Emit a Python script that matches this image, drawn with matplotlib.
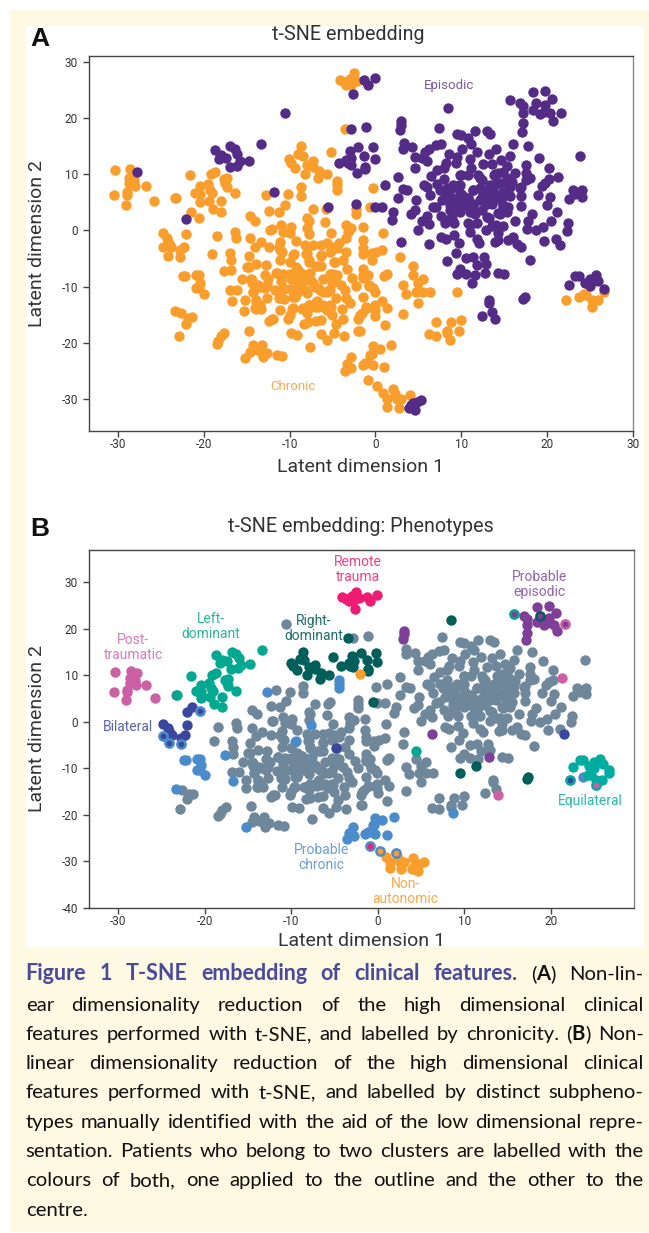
import numpy as np
import matplotlib
matplotlib.use('Agg')
import matplotlib.pyplot as plt
from matplotlib.patches import Rectangle

W, H = 649, 1233
plt.rcParams['font.family'] = ['Roboto', 'DejaVu Sans']
plt.rcParams['axes.unicode_minus'] = False

# Points are (latent 1, latent 2), split by phenotype and by chronicity
other_chronic = [
    (-23.4, 5.7), (-14.6, 2.6), (-14.0, 1.6), (-12.4, 3.5), (-11.3, 3.2), (-10.6, 4.5), (-10.2, 6.5),
    (-8.7, 7.7), (-8.7, 6.2), (-7.3, 3.9), (-5.8, 3.9), (-2.3, 3.8), (-8.0, 2.2), (-7.8, 1.6), (-8.0, 0.5),
    (-5.9, 1.5), (-5.2, -0.5), (-11.0, 1.0), (-9.9, 0.7), (-12.1, 0.2), (-12.3, 0.1), (-10.8, -0.2),
    (-10.0, -0.5), (-9.3, -1.8), (-14.6, -1.4), (-13.4, -2.1), (-14.1, -3.0), (-16.4, -0.2), (-16.3, -1.4),
    (-18.5, -1.0), (-11.1, -2.0), (-12.4, -2.9), (-11.3, -2.9), (-8.2, -2.6), (-7.3, -2.6), (-6.3, -2.6),
    (-5.7, -2.3), (-4.3, -2.2), (-5.0, -2.9), (-3.4, 1.0), (-2.8, 0.4), (-3.4, -1.4), (-1.5, 0.7),
    (-1.5, -1.7), (-3.2, -0.2), (-19.0, -4.2), (-16.9, -4.1), (-16.8, -5.3), (-16.8, -7.0), (-14.8, -4.5),
    (-13.9, -6.0), (-15.0, -6.6), (-14.8, -6.6), (-12.8, -6.2), (-11.1, -3.5), (-11.1, -5.3), (-10.9, -3.8),
    (-10.0, -5.6), (-9.3, -6.6), (-8.1, -4.2), (-7.8, -5.6), (-6.3, -4.5), (-6.9, -6.3), (-6.4, -6.3),
    (-5.2, -3.6), (-3.4, -3.8), (-3.8, -5.3), (-3.3, -6.8), (-1.4, -4.2), (-1.4, -6.8), (-15.6, -8.7),
    (-14.5, -8.7), (-14.4, -9.4), (-13.7, -9.7), (-12.9, -8.0), (-12.5, -8.7), (-12.9, -10.3), (-11.6, -7.5),
    (-10.8, -7.7), (-10.0, -7.7), (-9.2, -8.0), (-8.6, -7.7), (-7.6, -7.5), (-9.8, -8.7), (-11.0, -9.1),
    (-8.4, -9.1), (-7.3, -9.3), (-6.1, -8.7), (-4.9, -7.7), (-5.3, -8.2), (-4.7, -8.8), (-5.1, -9.4),
    (-4.0, -9.8), (-2.7, -8.5), (-2.3, -9.9), (-1.4, -8.0), (-0.8, -9.9), (-16.9, -10.7), (-16.1, -10.7),
    (-14.3, -11.0), (-11.7, -10.6), (-10.7, -10.5), (-10.0, -10.4), (-9.2, -11.1), (-9.4, -11.8),
    (-8.0, -11.2), (-6.7, -10.3), (-6.1, -10.9), (-5.4, -10.7), (-3.6, -10.7), (-15.2, -12.4), (-13.9, -12.4),
    (-12.7, -12.0), (-11.2, -12.1), (-10.7, -12.3), (-13.9, -14.0), (-13.5, -13.3), (-13.3, -14.0),
    (-15.3, -14.3), (-11.1, -14.1), (-4.6, -12.0), (-3.4, -12.1), (-3.0, -13.0), (-1.4, -11.9), (-9.7, -14.0),
    (-10.0, -15.1), (-10.2, -15.7), (-8.6, -14.0), (-8.0, -14.2), (-7.8, -13.3), (-8.0, -14.7), (-6.8, -12.5),
    (-7.0, -13.7), (-6.1, -13.3), (-5.7, -14.2), (-5.2, -13.6), (-5.1, -15.1), (-3.9, -14.0), (-3.8, -15.7),
    (-1.1, -13.7), (-2.0, -15.7), (-1.8, -15.1), (-12.4, -16.1), (-11.9, -15.7), (-8.3, -16.6), (-7.9, -16.4),
    (-6.9, -16.1), (-6.3, -16.0), (-4.6, -16.7), (-9.9, -18.2), (-9.1, -18.6), (-6.4, -18.5), (-4.8, -18.2),
    (-3.7, -18.8), (-5.6, -19.5), (-2.0, -17.9), (-14.7, -18.0), (-7.6, -20.8), (-22.7, -14.7), (-21.8, -15.6),
    (-21.4, -15.4), (-22.1, -16.6), (-22.9, -18.8), (-17.6, -18.2), (-18.0, -18.9), (-18.3, -19.7),
    (-18.5, -20.2), (-14.3, -20.4), (-14.6, -21.6), (-13.2, -20.5), (-13.7, -21.4), (-13.1, -22.2),
    (-13.1, -22.6), (-12.6, -21.8), (-11.5, -22.2), (-10.9, -22.4), (-1.4, -3.2), (-0.4, -4.1), (0.1, -3.8),
    (0.8, -3.5), (-0.4, -5.2), (2.9, -4.7), (4.4, -8.0), (-1.4, -8.4), (-0.9, -8.0), (1.3, -7.7), (1.0, -8.2),
    (-0.8, -9.7), (-0.3, -10.3), (-0.1, -10.9), (0.8, -12.5), (-0.1, -13.3), (1.3, -13.8), (-1.0, -13.8),
    (-0.1, -14.2), (0.0, -15.3), (-1.6, -14.7), (1.1, -16.9), (-1.8, -17.9), (3.2, -9.8), (3.6, -11.3),
    (4.7, -11.0), (5.0, -9.4), (5.6, -8.7), (5.5, -11.0), (6.4, -10.9), (5.0, -13.0), (3.2, -14.9),
    (7.1, -16.3), (8.8, -16.4), (10.0, -15.9), (8.4, -17.9), (8.4, -18.3), (9.7, -17.9), (6.2, -18.5),
    (7.1, -18.8), (-0.6, -22.2), (-0.25, 7.5), (0.9, -0.4), (-2.3, 3.0),
]
# second reading of the crowded middle of the chronic side
dense_chronic = [
    (-14.4, -8.8), (-14.3, -10.9), (-13.5, -10.0), (-12.7, -9.7), (-11.5, -7.6), (-10.0, -8.0), (-9.4, -8.8),
    (-8.8, -7.4), (-8.2, -8.0), (-10.8, -10.3), (-9.0, -10.3), (-8.2, -10.6), (-9.6, -11.8), (-7.1, -10.0),
    (-6.5, -10.6), (-5.7, -10.9), (-5.3, -10.6), (-7.5, -9.1), (-5.3, -7.7), (-4.5, -8.0), (-7.8, -13.3),
    (-8.4, -13.9), (-6.9, -12.7), (-6.7, -13.6), (-5.9, -13.9), (-5.3, -13.3), (-9.6, -13.9), (-13.9, -12.7),
    (-14.0, -13.9), (-11.0, -12.1), (-12.1, -15.7), (-9.6, -4.4), (-9.2, -6.8), (-8.0, -4.1), (-7.8, -5.3),
    (-6.7, -6.3), (-6.3, -4.4), (-4.7, -5.6), (-4.5, -3.2), (-5.3, -3.8),
]
other_episodic = [
    (-10.6, 21.0), (-2.9, 18.1), (-1.1, 18.5), (-11.8, 6.8), (-5.5, 4.2), (-2.3, 4.8), (7.4, 18.3), (9.5, 17.2),
    (10.0, 17.0), (11.6, 17.7), (13.0, 17.7), (13.4, 17.2), (10.8, 16.4), (11.1, 15.5), (16.1, 15.5),
    (17.8, 15.1), (3.3, 15.6), (3.2, 14.6), (4.3, 14.9), (7.1, 15.2), (7.6, 15.5), (6.2, 14.5), (5.8, 13.9),
    (8.6, 13.7), (10.1, 14.5), (11.9, 14.0), (13.2, 13.7), (14.1, 14.5), (15.7, 13.3), (4.6, 13.1), (5.4, 13.0),
    (6.0, 12.4), (9.5, 13.1), (9.4, 12.1), (11.0, 12.8), (14.7, 12.5), (12.6, 11.8), (13.6, 11.9), (8.2, 12.0),
    (8.0, 11.1), (7.2, 10.8), (4.6, 11.1), (15.3, 11.5), (17.6, 11.7), (19.1, 13.0), (23.9, 13.3), (20.2, 11.2),
    (6.5, 9.7), (2.6, 9.6), (8.0, 9.1), (9.9, 9.8), (10.8, 9.8), (11.1, 11.1), (12.0, 9.9), (14.0, 10.1),
    (14.9, 10.5), (16.3, 10.3), (17.6, 10.2), (18.0, 9.3), (17.6, 9.0), (20.2, 9.1), (19.8, 8.5), (19.4, 7.9),
    (1.1, 8.1), (3.2, 7.4), (3.7, 7.3), (5.7, 8.1), (6.0, 7.8), (7.2, 8.2), (9.1, 8.1), (9.9, 8.1), (12.2, 9.3),
    (13.4, 8.1), (14.1, 8.5), (15.3, 9.3), (15.9, 8.7), (17.0, 7.8), (23.0, 7.3), (24.1, 7.3), (7.5, 7.2),
    (8.3, 7.5), (11.4, 7.2), (12.2, 7.5), (13.0, 7.2), (14.9, 6.9), (15.7, 7.8), (2.6, 5.7), (4.7, 5.4),
    (6.4, 6.3), (7.8, 5.4), (8.7, 6.0), (10.1, 6.4), (10.8, 5.7), (12.4, 6.0), (13.4, 6.0), (14.3, 6.0),
    (15.7, 6.2), (17.0, 6.1), (19.0, 6.3), (20.4, 6.0), (22.6, 5.6), (23.3, 6.5), (24.1, 5.9), (-0.06, 4.1),
    (0.8, 4.1), (2.1, 3.2), (1.9, 1.9), (4.6, 3.6), (4.2, 2.9), (6.0, 2.6), (6.7, 4.1), (7.1, 4.2), (7.6, 2.6),
    (8.7, 4.5), (8.9, 2.8), (9.9, 4.8), (9.9, 3.3), (11.4, 4.5), (11.6, 3.3), (12.4, 3.6), (13.6, 5.0),
    (14.3, 3.1), (15.3, 3.3), (14.9, 4.5), (17.0, 4.4), (20.0, 4.5), (18.3, 3.0), (21.2, 3.2), (5.4, 1.6),
    (5.0, 0.1), (6.3, 1.1), (8.1, 1.3), (9.2, 1.3), (10.8, 1.3), (11.8, 1.3), (13.2, 2.2), (13.6, 0.8),
    (14.9, 0.8), (16.3, 1.7), (17.8, 1.6), (17.7, 0.2), (18.7, 0.0), (19.5, 0.7), (20.5, 1.6), (22.4, 1.3),
    (22.3, -0.1), (11.0, -0.2), (12.9, 0.1), (14.3, -0.5), (9.2, -0.9), (7.7, -1.1), (8.2, -1.5), (3.0, -2.1),
    (9.8, -2.3), (11.8, -1.6), (12.1, -2.2), (14.0, -2.0), (14.3, -1.7), (15.5, -1.7), (16.1, -1.1),
    (16.5, -2.5), (17.0, -2.9), (19.7, -1.8), (21.1, -1.6), (8.4, -5.4), (9.4, -4.0), (10.6, -5.0), (11.4, -4.7),
    (11.9, -6.2), (12.7, -4.8), (12.9, -6.0), (9.9, -6.8), (9.5, -7.7), (10.6, -7.7), (11.6, -8.0), (14.3, -7.5),
    (15.0, -7.8), (18.0, -5.2), (13.3, -12.4), (13.3, -13.0), (13.6, -14.5), (12.4, -15.3),
]
# second reading of the crowded middle of the episodic side
dense_episodic = [
    (10.0, 9.9), (12.4, 9.0), (11.4, 7.2), (13.4, 7.8), (12.6, 6.6), (13.2, 6.3), (13.8, 6.6), (12.2, 5.4),
    (12.6, 5.4), (13.6, 4.8), (13.0, 4.8), (14.9, 6.6), (14.7, 5.4), (15.5, 6.3), (14.9, 4.2), (14.5, 3.0),
    (15.5, 4.2), (9.9, 6.6), (9.9, 5.7), (10.8, 5.7), (11.4, 4.8), (10.4, 4.5), (9.9, 3.9), (11.0, 3.3),
    (11.6, 3.0), (13.0, 2.4), (8.9, 7.5), (8.5, 6.6), (8.1, 5.7), (8.9, 5.7), (9.3, 4.5), (8.7, 3.6), (9.7, 8.1),
    (13.8, 9.9), (14.3, 10.2), (15.3, 8.4), (14.0, 8.1), (14.5, 8.4), (16.9, 7.5), (8.1, 1.8), (8.9, 2.1),
    (11.0, 1.0), (14.1, 0.9),
]

post_chronic = [
    (-30.4, 10.7), (-28.6, 10.9), (-28.7, 9.4), (-28.1, 9.0), (-28.7, 8.4), (-28.0, 8.0), (-26.8, 8.0),
    (-29.0, 6.9), (-29.0, 6.4), (-30.5, 6.4), (-29.1, 4.6), (-25.8, 5.2),
]
post_episodic = [(-27.8, 10.5), (21.3, 9.5), (13.9, -15.7)]

left_chronic = [
    (-23.2, 5.7), (-21.6, 9.9), (-20.4, 7.9), (-19.5, 8.3), (-21.0, 6.6), (-20.4, 6.5), (-19.3, 7.2),
    (-19.1, 6.6), (-20.5, 5.1), (-19.4, 5.3), (-18.0, 5.3), (-18.9, 3.9), (-18.0, 3.3), (-19.2, 10.0),
    (-18.7, 10.5), (-17.7, 9.1), (-17.3, 9.3), (-17.5, 8.4), (-17.3, 7.7), (-16.4, 6.7), (4.4, -6.3),
]
left_episodic = [
    (-18.7, 14.4), (-16.9, 15.0), (-16.4, 14.5), (-16.1, 13.7), (-18.0, 13.4), (-17.4, 13.0), (-18.2, 12.7),
    (-15.8, 12.3), (-14.8, 12.4), (-16.2, 11.5), (-17.0, 11.4), (-13.4, 15.4),
]

right_chronic = [
    (-8.7, 15.0), (-9.0, 13.6), (-8.5, 13.3), (-10.1, 12.7), (-9.8, 12.0), (-9.4, 11.2), (-8.0, 11.7),
    (-7.3, 12.3), (-7.3, 11.4), (-8.2, 10.0), (-6.6, 10.6), (-6.7, 9.3), (-5.7, 10.1), (-5.2, 13.9),
    (-3.5, 18.1), (-0.6, 4.2), (9.5, -10.9),
]
right_episodic = [
    (-4.3, 12.0), (-3.0, 14.2), (-2.0, 14.8), (-3.4, 12.6), (-2.8, 13.0), (-3.2, 12.0), (-2.9, 11.7),
    (-1.3, 13.3), (-1.2, 11.4), (-1.2, 10.9), (-0.25, 14.8), (-0.06, 12.8), (8.5, 21.8), (11.3, -9.4),
    (17.4, -11.8), (17.2, -12.2),
]

remote_chronic = [
    (-4.1, 26.9), (-3.7, 26.4), (-3.4, 25.9), (-3.2, 26.7), (-3.0, 27.0), (-2.9, 26.2), (-2.5, 28.0),
    (-2.6, 27.3), (-2.2, 26.7), (-2.9, 25.9),
]
remote_episodic = [(-1.3, 26.9), (-0.9, 25.9), (-0.1, 27.2), (-2.6, 24.3)]

prob_episodic = [
    (16.9, 22.7), (17.2, 22.1), (17.2, 20.9), (18.4, 24.6), (19.8, 24.8), (20.6, 23.4), (19.8, 22.4),
    (18.4, 21.5), (19.2, 20.8), (19.6, 21.2), (20.4, 20.9), (20.7, 19.6), (17.2, 19.1), (17.1, 17.6),
    (3.0, 19.6), (3.0, 18.8), (2.9, 17.9), (6.2, -2.5), (12.8, -7.5),
]

bilateral_chronic = [
    (-21.5, 3.2), (-24.8, -0.4), (-24.3, -1.4), (-24.0, -2.6), (-23.8, -2.9), (-24.2, -2.0), (-22.3, -2.9),
    (-22.8, -3.5), (-22.1, -0.7), (-4.8, -5.6),
]
bilateral_episodic = [(-22.1, 2.1), (21.5, -2.6)]

prob_chronic = [
    (-12.8, 6.4), (-4.5, 8.9), (-4.5, 8.1), (-4.5, 7.3), (-7.7, -0.7), (-9.5, -4.2), (-17.7, -7.2),
    (-16.7, -12.6), (-22.4, -8.1), (-22.2, -8.1), (-20.9, -8.0), (-20.6, -8.0), (-20.4, -9.3), (-20.9, -10.3),
    (-20.6, -10.3), (-20.0, -11.4), (-23.4, -14.4), (-15.2, -22.7), (-2.9, -22.6), (-3.3, -23.8), (-2.8, -24.6),
    (-3.6, -25.1), (-1.5, -24.0), (-1.0, -23.7), (-0.3, -20.6), (0.5, -21.1), (1.8, -20.4), (-0.4, -22.1),
    (-1.2, -23.7), (-0.3, -24.0), (1.0, -24.4), (8.7, -19.5), (23.7, -11.8),
]

nonauto_chronic = [
    (0.9, -29.0), (2.3, -29.2), (1.4, -30.1), (2.5, -30.1), (3.0, -30.1), (4.0, -29.3), (1.4, -31.5), (2.7, -31.7),
]
nonauto_episodic = [(5.3, -30.2), (4.8, -30.5), (4.2, -31.1), (3.9, -31.7), (4.6, -32.0), (4.4, -30.8), (-2.1, 10.2)]

equilateral_chronic = [(24.3, -11.4), (24.6, -11.5), (25.2, -12.4), (25.9, -12.4), (26.7, -10.9)]
equilateral_episodic = [
    (23.3, -8.1), (23.7, -8.1), (22.6, -9.7), (25.7, -8.0), (25.0, -8.7), (24.4, -9.4), (25.0, -9.9),
    (26.0, -9.1), (26.7, -10.4),
]

# patients in two clusters: (x, y), outline colour name, centre colour name
dual_chronic = [(-20.6, 2.3), (-24.8, -3.0), (-24.2, -4.6), (-22.8, -4.8), (-0.9, -26.6), (0.2, -27.7), (2.1, -28.2),
                (22.2, -12.4), (25.2, -13.6)]
dual_chronic_outline = ['prob_chronic'] * 7 + ['equilateral'] * 2
dual_chronic_centre = ['bilateral'] * 4 + ['remote', 'nonauto', 'nonauto', 'bilateral', 'post']
dual_episodic = [(15.7, 23.2), (18.7, 22.8), (21.6, 21.0)]
dual_episodic_outline = ['left', 'right', 'post']
dual_episodic_centre = ['prob_episodic'] * 3

xticks = [-30, -20, -10, 0, 10, 20, 30]
yticks_a = [-30, -20, -10, 0, 10, 20, 30]
yticks_b = [-40, -30, -20, -10, 0, 10, 20, 30]

ORANGE = '#F99D2C'
PURPLE = '#542C88'
GRAY = '#6E879B'
colors = {
    'post': '#CC60A4', 'left': '#00A88F', 'right': '#005F5B', 'remote': '#EE1C74', 'prob_episodic': '#7F3F98',
    'bilateral': '#39479F', 'prob_chronic': '#4A8CCB', 'nonauto': ORANGE, 'equilateral': '#00ABA0',
}
groups = {
    'post': post_chronic + post_episodic, 'left': left_chronic + left_episodic,
    'right': right_chronic + right_episodic, 'remote': remote_chronic + remote_episodic,
    'prob_episodic': prob_episodic, 'bilateral': bilateral_chronic + bilateral_episodic,
    'prob_chronic': prob_chronic, 'nonauto': nonauto_chronic + nonauto_episodic,
    'equilateral': equilateral_chronic + equilateral_episodic,
}
gray_points = other_chronic + dense_chronic + other_episodic + dense_episodic
all_chronic = (other_chronic + dense_chronic + post_chronic + left_chronic + right_chronic + remote_chronic
               + bilateral_chronic + prob_chronic + nonauto_chronic + equilateral_chronic + dual_chronic)
all_episodic = (other_episodic + dense_episodic + post_episodic + left_episodic + right_episodic + remote_episodic
                + prob_episodic + bilateral_episodic + nonauto_episodic + equilateral_episodic + dual_episodic)

caption_lines = [
    "Figure 1 T-SNE embedding of clinical features. (*A*) Non-lin-",
    "ear dimensionality reduction of the high dimensional clinical",
    "features performed with t-SNE, and labelled by chronicity. (*B*) Non-",
    "linear dimensionality reduction of the high dimensional clinical",
    "features performed with t-SNE, and labelled by distinct subpheno-",
    "types manually identified with the aid of the low dimensional repre-",
    "sentation. Patients who belong to two clusters are labelled with the",
    "colours of both, one applied to the outline and the other to the",
    "centre.",
]
caption_y = [980, 1011, 1040, 1069, 1098, 1128, 1157, 1186, 1216]
HEAD_WORDS = 7
DOT = 56

fig = plt.figure(figsize=(W / 100, H / 100), dpi=100, facecolor='white')

# page background, in pixels
bg = fig.add_axes([0, 0, 1, 1])
bg.set_xlim(0, W)
bg.set_ylim(H, 0)
bg.axis('off')
bg.add_patch(Rectangle((9.5, 9.5), W - 9.5, 1222, facecolor='#FDF9E2', edgecolor='none'))
bg.add_patch(Rectangle((26, 26), 618, 921, facecolor='white', edgecolor='none'))
bg.text(30, 39, 'A', fontsize=19, fontweight='bold', family='Liberation Sans', va='center', color='#111111')
bg.text(30, 529, 'B', fontsize=19, fontweight='bold', family='Liberation Sans', va='center', color='#111111')
bg.text(348, 34, 't-SNE embedding', fontsize=14.2, color='#333333', ha='center', va='center')
bg.text(361, 526, 't-SNE embedding: Phenotypes', fontsize=14.2, color='#333333', ha='center', va='center')


def make_axes(left, right, top, bottom, xlim, ylim, yticks, xtick_vals):
    ax = fig.add_axes([left / W, 1 - bottom / H, (right - left) / W, (bottom - top) / H])
    ax.set_xlim(*xlim)
    ax.set_ylim(*ylim)
    ax.set_xticks(xtick_vals)
    ax.set_yticks(yticks)
    ax.tick_params(labelsize=8.5, length=4, width=1, color='#444444', labelcolor='#333333')
    ax.tick_params(axis='x', pad=1)
    ax.tick_params(axis='y', pad=4)
    for s in ax.spines.values():
        s.set_color('#444444')
        s.set_linewidth(1)
    ax.spines['right'].set_color('#888888')
    return ax


def xy(points):
    arr = np.array(points)
    return arr[:, 0], arr[:, 1]


def draw_dual(ax, points, outline, centre, s):
    for (x, y), o, c in zip(points, outline, centre):
        ax.scatter(x, y, s=s, color=colors[o], linewidths=0, zorder=5)
        ax.scatter(x, y, s=s * 0.28, color=colors[c], linewidths=0, zorder=6)


# Panel A
ax_a = make_axes(89, 632.7, 56, 430.7, (-33.4, 30), (-35.7, 31.1), yticks_a, xticks)
ax_a.scatter(*xy(all_chronic), s=DOT, color=ORANGE, linewidths=0, zorder=2)
ax_a.scatter(*xy(all_episodic), s=DOT, color=PURPLE, linewidths=0, zorder=3)
ax_a.text(8.6, 25.9, 'Episodic', color='#7A58A6', fontsize=9.5, ha='center', va='center')
ax_a.text(-9.6, -27.9, 'Chronic', color='#FAA94A', fontsize=9.5, ha='center', va='center')
ax_a.set_xlabel('Latent dimension 1', fontsize=14, color='#333333', labelpad=5)
ax_a.set_ylabel('Latent dimension 2', fontsize=14, color='#333333', labelpad=11)

# Panel B
ax_b = make_axes(89, 634, 549.7, 908, (-33.4, 29.6), (-40, 37), yticks_b, xticks[:-1])
ax_b.scatter(*xy(gray_points), s=DOT, color=GRAY, linewidths=0, zorder=2)
for name, pts in groups.items():
    ax_b.scatter(*xy(pts), s=DOT, color=colors[name], linewidths=0, zorder=3)
draw_dual(ax_b, dual_chronic, dual_chronic_outline, dual_chronic_centre, DOT + 4)
draw_dual(ax_b, dual_episodic, dual_episodic_outline, dual_episodic_centre, DOT + 4)

labels_b = [
    ('Remote\ntrauma', -2.3, 32.7, '#F0408A'), ('Probable\nepisodic', 18.7, 29.5, '#9561AC'),
    ('Post-\ntraumatic', -28.3, 16.0, '#D67DB6'), ('Left-\ndominant', -19.3, 20.5, '#2CB39D'),
    ('Right-\ndominant', -7.4, 20.0, '#1E6F6B'), ('Bilateral', -28.9, -1.2, '#5A65B0'),
    ('Equilateral', 24.5, -16.9, '#2DB8AE'), ('Probable\nchronic', -6.5, -29.2, '#6A9FD6'),
    ('Non-\nautonomic', 3.2, -36.4, '#FAA94A'),
]
for txt, x, y, c in labels_b:
    ax_b.text(x, y, txt, color=c, fontsize=10, ha='center', va='center', linespacing=1.1, zorder=7)
ax_b.set_xlabel('Latent dimension 1', fontsize=14, color='#333333', labelpad=3)
ax_b.set_ylabel('Latent dimension 2', fontsize=14, color='#333333', labelpad=11)

# Caption, justified word by word
renderer = fig.canvas.get_renderer()
CAP_LEFT, CAP_RIGHT = 25.7, 643.6


def word_pieces(word, head):
    out = []
    for i, part in enumerate(word.split('*')):
        if part:
            if head:
                out.append((part, 'bold', '#4A4A9C'))
            else:
                out.append((part, 'bold' if i % 2 else 'normal', '#111111'))
    return out


for n, (line, y) in enumerate(zip(caption_lines, caption_y)):
    words = line.split(' ')
    drawn = []
    total = 0
    for i, word in enumerate(words):
        head = n == 0 and i < HEAD_WORDS
        pieces = []
        w = 0
        for part, weight, color in word_pieces(word, head):
            t = bg.text(0, y, part, fontsize=15.5 if head else 14.6, fontweight=weight, color=color,
                        family='Lato', va='baseline')
            pw = t.get_window_extent(renderer).width
            pieces.append((t, pw))
            w += pw
        drawn.append((pieces, w))
        total += w
    gap = 5.0 if n == len(caption_lines) - 1 else (CAP_RIGHT - CAP_LEFT - total) / (len(words) - 1)
    pos = CAP_LEFT
    for pieces, w in drawn:
        cur = pos
        for t, pw in pieces:
            t.set_x(cur)
            cur += pw
        pos += w + gap

fig.savefig('out.png', dpi=100)
